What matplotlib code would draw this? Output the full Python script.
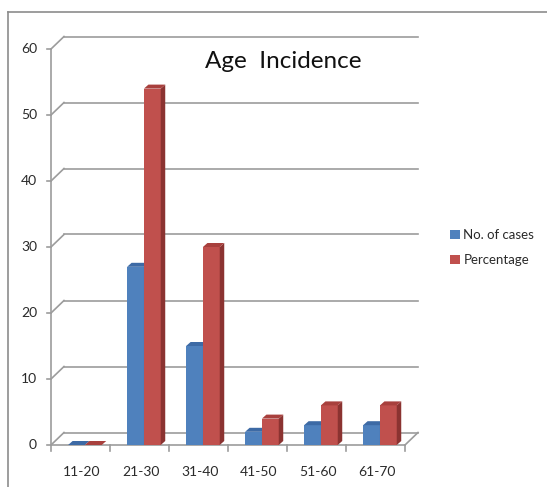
import matplotlib.pyplot as plt
from matplotlib.patches import Polygon
from matplotlib.lines import Line2D

# data
age_groups = ['11-20', '21-30', '31-40', '41-50', '51-60', '61-70']
cases = [0, 27, 15, 2, 3, 3]
percentage = [0, 54, 30, 4, 6, 6]
y_ticks = [0, 10, 20, 30, 40, 50, 60]

W, H = 547, 487
x0_px, y0_px = 51, 445      # front corner of the plot (value 0, first category)
cat_px, unit_px = 59, 6.6   # pixels per category / per unit

plt.rcParams['font.family'] = ['Lato', 'DejaVu Sans']

fig = plt.figure(figsize=(W / 100, H / 100), dpi=100)
ax = fig.add_axes([0, 0, 1, 1])
ax.set_xlim(-x0_px / cat_px, (W - x0_px) / cat_px)
ax.set_ylim(-(H - y0_px) / unit_px, y0_px / unit_px)
ax.axis('off')

# 3d offsets: wall depth and bar depth, in data units
wdx, wdy = 13 / cat_px, 12.5 / unit_px
bdx, bdy = 4.5 / cat_px, 4 / unit_px
n = len(age_groups)
grid_c = '#9c9c9c'
txt_c = '#2a2a2a'

# chart area border (top and left only visible)
fig.add_artist(Line2D([8 / W, 1], [1 - 12 / H, 1 - 12 / H], transform=fig.transFigure,
                      color='#8c8c8c', lw=1.2))
fig.add_artist(Line2D([8 / W, 8 / W], [0, 1 - 12 / H], transform=fig.transFigure,
                      color='#8c8c8c', lw=1.2))

# back wall gridlines and side wall diagonals
for v in y_ticks:
    ax.plot([wdx, n + wdx], [v + wdy, v + wdy], color=grid_c, lw=1.2, zorder=1)
    ax.plot([0, wdx], [v, v + wdy], color=grid_c, lw=1.2, zorder=1)
    ax.plot([-4 / cat_px, 0], [v, v], color=grid_c, lw=1.2, zorder=1)
    ax.text(-14 / cat_px, v, str(v), ha='right', va='center', fontsize=10, color=txt_c)

# floor front edge and right edge
ax.plot([0, n], [0, 0], color=grid_c, lw=1.2, zorder=1)
ax.plot([n, n + wdx], [0, wdy], color=grid_c, lw=1.2, zorder=1)
ax.plot([0, 0], [0, y_ticks[-1]], color=grid_c, lw=1.2, zorder=1)
for i in range(n + 1):
    ax.plot([i, i], [0, -6 / unit_px], color=grid_c, lw=1.2, zorder=1)
for i, lab in enumerate(age_groups):
    ax.text(i + 0.52, -4.1, lab, ha='center', va='center', fontsize=10, color=txt_c)

bw = 0.285
series = [
    (cases, 0.29, '#4f81bd', '#3a6397', '#3d6aa5', 'No. of cases'),
    (percentage, 0.29 + bw, '#c0504d', '#8b3331', '#a8403d', 'Percentage'),
]
handles = []
for i in range(n):
    for vals, off, front, side, top, lab in series:
        v = vals[i]
        left = i + off
        b = ax.bar(left, v, width=bw, align='edge', color=front, lw=0, zorder=3)
        ax.add_patch(Polygon([(left + bw, 0), (left + bw + bdx, bdy),
                              (left + bw + bdx, v + bdy), (left + bw, v)],
                             closed=True, fc=side, ec='none', zorder=3))
        ax.add_patch(Polygon([(left, v), (left + bdx, v + bdy),
                              (left + bw + bdx, v + bdy), (left + bw, v)],
                             closed=True, fc=top, ec='none', zorder=3))
        if i == 1:
            handles.append((b, lab))

ax.text((283 - x0_px) / cat_px, (y0_px - 62) / unit_px, 'Age  Incidence',
        ha='center', va='center', fontsize=17.5, color='#111111')

ax.legend([h for h, _ in handles], [l for _, l in handles],
          loc='upper left', bbox_to_anchor=(445 / W, 1 - 224 / H),
          frameon=False, fontsize=9.5, handlelength=0.7, handleheight=0.7,
          handletextpad=0.3, labelspacing=1.0, borderaxespad=0,
          labelcolor=txt_c)

fig.savefig('out.png', dpi=100)
